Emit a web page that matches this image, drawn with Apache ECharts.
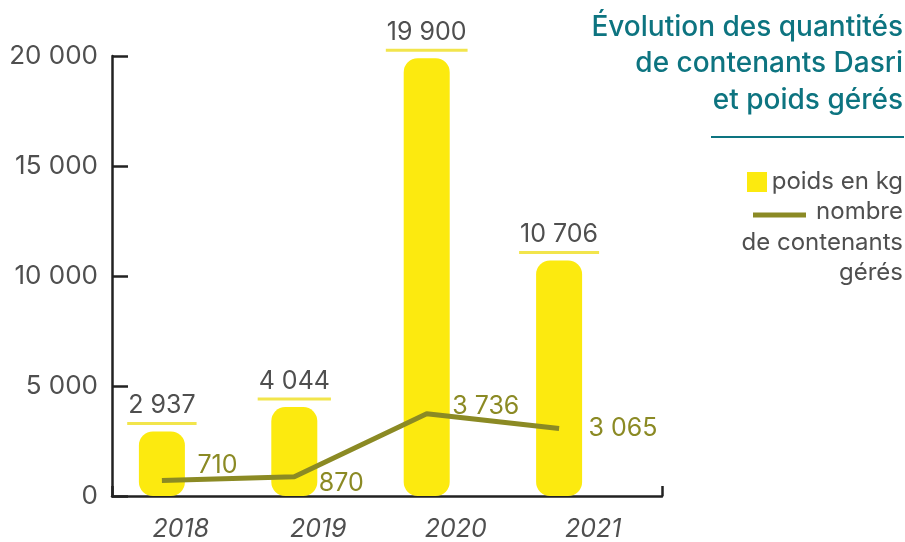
<!DOCTYPE html>
<html>
<head>
<meta charset="utf-8">
<script src="https://cdn.jsdelivr.net/npm/echarts@6/dist/echarts.min.js"></script>
<style>
  html, body { margin: 0; padding: 0; background: #fff; }
  #chart { width: 905px; height: 542px; }
</style>
</head>
<body>
<div id="chart"></div>
<script>
// Dasri data, 2018–2021
const years = ['2018', '2019', '2020', '2021'];
const poidsKg = [2937, 4044, 19900, 10706];
const nbContenants = [710, 870, 3736, 3065];
const yTicks = [0, 5000, 10000, 15000, 20000];

const FONT = 'Inter, "Open Sans", sans-serif';
const GRAY = '#4f4f4f';
const YELLOW = '#fcea0f';
const YELLOW_LINE = '#f2e54c';
const OLIVE = '#8b8a24';
const TEAL = '#0d7480';
const AXIS = '#222222';
const FS = 25;

// French thousands separator: "20 000"
function fmt(v) {
  return String(v).replace(/\B(?=(\d{3})+(?!\d))/g, ' ');
}

// width of a value label, used for the underline under each bar label
const measureCtx = document.createElement('canvas').getContext('2d');
function textWidth(s, size) {
  measureCtx.font = size + 'px ' + FONT;
  return measureCtx.measureText(s).width;
}

// per-point offsets of the line labels (kept clear of the line itself)
const lineLabelOffsets = [[35, -15], [24, 7], [25, -7], [29, 0]];

const chart = echarts.init(document.getElementById('chart'), null, { renderer: 'canvas' });

function legendText(text, y) {
  return {
    type: 'text',
    style: { text: text, x: 903, y: y, align: 'right', verticalAlign: 'middle', font: '24px ' + FONT, fill: GRAY }
  };
}

const option = {
  animation: false,
  grid: [
    { left: 112, right: 243, top: 56, bottom: 46 },
    { left: 95.7, right: 279.7, top: 56, bottom: 46 }
  ],
  xAxis: [
    {
      type: 'category',
      gridIndex: 0,
      position: 'bottom',
      data: years,
      boundaryGap: true,
      axisLine: { show: true, lineStyle: { color: AXIS, width: 2.5 } },
      axisTick: { show: false },
      axisLabel: {
        margin: 21,
        fontFamily: FONT,
        fontSize: FS,
        fontStyle: 'italic',
        color: GRAY
      },
      splitLine: { show: false }
    },
    {
      // end tick of the horizontal axis
      type: 'value',
      gridIndex: 0,
      position: 'bottom',
      min: 0,
      max: 1,
      interval: 1,
      axisLine: { show: false },
      axisTick: { show: true, inside: true, length: 10, lineStyle: { color: AXIS, width: 2.5 } },
      axisLabel: { show: false },
      splitLine: { show: false }
    },
    {
      type: 'category',
      gridIndex: 1,
      data: years,
      show: false
    }
  ],
  yAxis: [
    {
      type: 'value',
      gridIndex: 0,
      min: yTicks[0],
      max: yTicks[yTicks.length - 1],
      interval: yTicks[1] - yTicks[0],
      axisLine: { show: true, lineStyle: { color: AXIS, width: 2.5 } },
      axisTick: { show: true, inside: true, length: 16, lineStyle: { color: AXIS, width: 2.5 } },
      axisLabel: {
        margin: 14,
        fontFamily: FONT,
        fontSize: 26,
        color: GRAY,
        formatter: fmt
      },
      splitLine: { show: false }
    },
    {
      type: 'value',
      gridIndex: 1,
      min: yTicks[0],
      max: yTicks[yTicks.length - 1],
      show: false
    }
  ],
  series: [
    {
      name: 'poids en kg',
      type: 'bar',
      xAxisIndex: 2,
      yAxisIndex: 1,
      data: poidsKg,
      barWidth: 46,
      itemStyle: { color: YELLOW, borderRadius: 14 },
      z: 2
    },
    {
      // value labels above bars, with their underline
      type: 'custom',
      xAxisIndex: 2,
      yAxisIndex: 1,
      data: poidsKg.map((v, i) => [i, v]),
      z: 3,
      silent: true,
      renderItem: function (params, api) {
        const pt = api.coord([api.value(0), api.value(1)]);
        const label = fmt(api.value(1));
        const w = textWidth(label, FS) + 2;
        return {
          type: 'group',
          children: [
            {
              type: 'rect',
              shape: { x: pt[0] - w / 2, y: pt[1] - 9.5, width: w, height: 3 },
              style: { fill: YELLOW_LINE }
            },
            {
              type: 'text',
              style: {
                text: label,
                x: pt[0],
                y: pt[1] - 26,
                align: 'center',
                verticalAlign: 'middle',
                font: FS + 'px ' + FONT,
                fill: GRAY
              }
            }
          ]
        };
      }
    },
    {
      name: 'nombre de contenants gérés',
      type: 'line',
      xAxisIndex: 2,
      yAxisIndex: 1,
      data: nbContenants.map((v, i) => ({
        value: v,
        label: { offset: lineLabelOffsets[i] }
      })),
      symbol: 'circle',
      symbolSize: 1,
      showSymbol: true,
      itemStyle: { color: 'rgba(0,0,0,0)', borderWidth: 0 },
      lineStyle: { color: OLIVE, width: 5, cap: 'butt' },
      label: {
        show: true,
        position: 'right',
        distance: 0,
        fontFamily: FONT,
        fontSize: FS,
        color: OLIVE,
        formatter: p => fmt(p.value)
      },
      z: 4
    }
  ],
  graphic: [
    {
      type: 'text',
      style: {
        text: 'Évolution des quantités\nde contenants Dasri\net poids gérés',
        x: 903,
        y: 9,
        align: 'right',
        verticalAlign: 'top',
        lineHeight: 36.5,
        font: '500 28px ' + FONT,
        fill: TEAL
      }
    },
    {
      type: 'line',
      shape: { x1: 711, y1: 137, x2: 904, y2: 137 },
      style: { stroke: TEAL, lineWidth: 2 }
    },
    {
      type: 'rect',
      shape: { x: 747, y: 172, width: 20, height: 20 },
      style: { fill: YELLOW }
    },
    {
      type: 'line',
      shape: { x1: 753, y1: 215, x2: 806, y2: 215 },
      style: { stroke: OLIVE, lineWidth: 5 }
    },
    legendText('poids en kg', 182),
    legendText('nombre', 212),
    legendText('de contenants', 243),
    legendText('gérés', 273)
  ]
};

chart.setOption(option);
</script>
</body>
</html>
